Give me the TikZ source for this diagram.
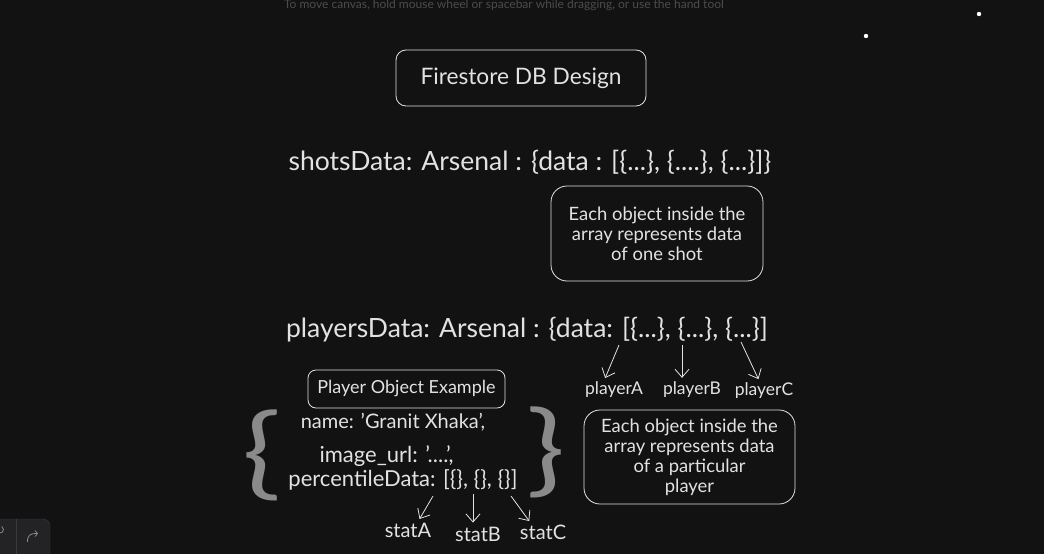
\documentclass[tikz,border=0pt]{standalone}
\usepackage{fontspec}
\setmainfont{Lato}
\usetikzlibrary{arrows.meta}
\definecolor{canvas}{HTML}{121212}
\definecolor{chalk}{HTML}{E2E2E2}
\definecolor{brace}{HTML}{8A8A8A}
\definecolor{hint}{HTML}{4C4C4C}
\definecolor{panel}{HTML}{232325}
\definecolor{panelline}{HTML}{3A3A3C}
\tikzset{note/.style={draw=chalk,thick,rounded corners=16pt},
lab/.style={font=\fontsize{18.4}{20}\selectfont,text=chalk,align=center,inner sep=1pt},
code/.style={font=\fontsize{26.5}{30}\selectfont,text=chalk,inner sep=0pt},
curly/.style={text=brace,font=\fontsize{100}{100}\selectfont,inner sep=0pt,xscale=1.3},
ptr/.style={-{Straight Barb[length=8pt,width=14pt]},chalk,thick,shorten >=3pt}}

\begin{document}
\begin{tikzpicture}[x=1pt,y=-1pt]
\fill[canvas] (0,0) rectangle (1044,554);
\useasboundingbox (0,0) rectangle (1044,554);
% editor leftovers
\node[font=\fontsize{12}{14}\selectfont,text=hint,inner sep=0pt] (hinttext) at (504,5) {To move canvas, hold mouse wheel or spacebar while dragging, or use the hand tool};
\fill[white] (866,36) circle (2.2) (979,14) circle (2.2);
\draw[panelline,fill=panel,rounded corners=7pt] (-12,519) rectangle (50,566);
\draw[panelline] (16,519)--(16,554);
\draw[brace,thick] (0,533) arc[start angle=90,end angle=-60,radius=3.5];
\draw[brace,thick,-{Straight Barb[length=2.5pt,width=6pt]}] (27.5,542) .. controls (27.5,535) and (30,533.5) .. (38,533.5);
% title
\node[note,rounded corners=10pt,lab,font=\fontsize{22.7}{26}\selectfont,minimum width=250pt,minimum height=56pt] (title) at (521,78) {Firestore DB Design};
% shots
\node[code] (shots) at (530,162) {shotsData: Arsenal : \{data : [\{...\}, \{....\}, \{...\}]\}};
\node[note,lab,minimum width=212pt,minimum height=95pt] (shotnote) at (657,233.5) {Each object inside the\\array represents data\\of one shot};
% players
\node[code] (players) at (527,330) {playersData: Arsenal : \{data: [\{...\}, \{...\}, \{...\}]};
\coordinate (tA) at (619,345);
\coordinate (tB) at (682,345);
\coordinate (tC) at (741,342);
\node[lab,font=\fontsize{17.5}{20}\selectfont] (pA) at (614,390) {playerA};
\node[lab,font=\fontsize{17.5}{20}\selectfont] (pB) at (692,390) {playerB};
\node[lab,font=\fontsize{17.5}{20}\selectfont] (pC) at (764,391) {playerC};
\draw[ptr] (tA) -- ([xshift=-10pt]pA.north);
\draw[ptr] (tB) -- (tB |- pB.north);
\draw[ptr] (tC) -- (pC);
\node[note,lab,minimum width=211pt,minimum height=94pt] (playnote) at (689.5,457) {Each object inside the\\array represents data\\of a particular\\player};
% player object
\node[note,rounded corners=8pt,lab,font=\fontsize{18}{20}\selectfont,minimum width=197pt,minimum height=38pt] (example) at (406.5,389) {Player Object Example};
\node[curly] (lbrace) at (262,455) {\{};
\node[curly] (rbrace) at (546,452) {\}};
\node[lab,font=\fontsize{20}{22}\selectfont] (name) at (393,422) {name: 'Granit Xhaka',};
\node[lab,font=\fontsize{22}{24}\selectfont] (image) at (386.5,456) {image\_url: '....',};
\node[lab,font=\fontsize{22}{24}\selectfont] (pct) at (403,480) {percentileData: [\{\}, \{\}, \{\}]};
\coordinate (sA) at (433,496);
\coordinate (sB) at (473,494);
\coordinate (sC) at (511,496);
\node[lab,font=\fontsize{20}{22}\selectfont] (stA) at (408,530) {statA};
\node[lab,font=\fontsize{20}{22}\selectfont] (stB) at (478,534) {statB};
\node[lab,font=\fontsize{20}{22}\selectfont] (stC) at (543,532) {statC};
\draw[ptr] (sA) -- ([xshift=10pt]stA.north);
\draw[ptr] (sB) -- (sB |- stB.north);
\draw[ptr] (sC) -- ([xshift=-12pt]stC.north);
\end{tikzpicture}
\end{document}
